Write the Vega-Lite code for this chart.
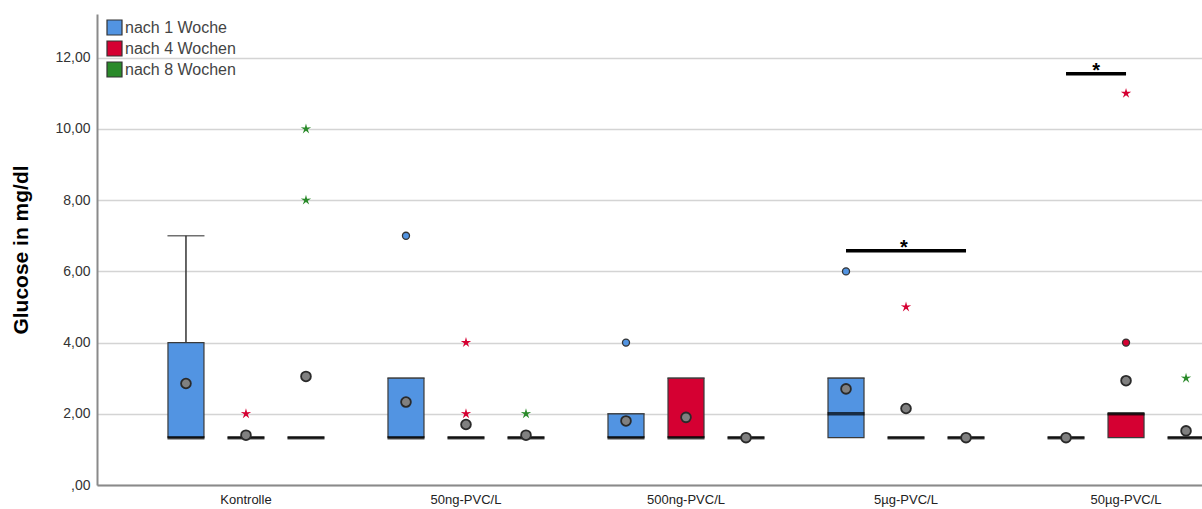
{
  "$schema": "https://vega.github.io/schema/vega-lite/v6.json",
  "autosize": "none",
  "width": 1105,
  "height": 471,
  "padding": {"left": 97, "top": 14, "right": 0, "bottom": 24},
  "background": "white",
  "config": {
    "view": {"stroke": null},
    "font": "Liberation Sans",
    "axis": {"gridColor": "#d4d4d4", "gridWidth": 1.5, "domainColor": "#8a8a8a", "domainWidth": 2, "ticks": false}
  },
  "datasets": {
    "boxes": [
      {"group": "Kontrolle", "series": "nach 1 Woche", "q1": 1.33, "median": 1.33, "q3": 4, "upper": 7, "mean": 2.85},
      {"group": "Kontrolle", "series": "nach 4 Wochen", "q1": 1.33, "median": 1.33, "q3": 1.33, "upper": 1.33, "mean": 1.4},
      {"group": "Kontrolle", "series": "nach 8 Wochen", "q1": 1.33, "median": 1.33, "q3": 1.33, "upper": 1.33, "mean": 3.05},
      {"group": "50ng-PVC/L", "series": "nach 1 Woche", "q1": 1.33, "median": 1.33, "q3": 3, "upper": 3, "mean": 2.33},
      {"group": "50ng-PVC/L", "series": "nach 4 Wochen", "q1": 1.33, "median": 1.33, "q3": 1.33, "upper": 1.33, "mean": 1.7},
      {"group": "50ng-PVC/L", "series": "nach 8 Wochen", "q1": 1.33, "median": 1.33, "q3": 1.33, "upper": 1.33, "mean": 1.4},
      {"group": "500ng-PVC/L", "series": "nach 1 Woche", "q1": 1.33, "median": 1.33, "q3": 2, "upper": 2, "mean": 1.8},
      {"group": "500ng-PVC/L", "series": "nach 4 Wochen", "q1": 1.33, "median": 1.33, "q3": 3, "upper": 3, "mean": 1.9},
      {"group": "500ng-PVC/L", "series": "nach 8 Wochen", "q1": 1.33, "median": 1.33, "q3": 1.33, "upper": 1.33, "mean": 1.33},
      {"group": "5µg-PVC/L", "series": "nach 1 Woche", "q1": 1.33, "median": 2, "q3": 3, "upper": 3, "mean": 2.7},
      {"group": "5µg-PVC/L", "series": "nach 4 Wochen", "q1": 1.33, "median": 1.33, "q3": 1.33, "upper": 1.33, "mean": 2.15},
      {"group": "5µg-PVC/L", "series": "nach 8 Wochen", "q1": 1.33, "median": 1.33, "q3": 1.33, "upper": 1.33, "mean": 1.33},
      {"group": "50µg-PVC/L", "series": "nach 1 Woche", "q1": 1.33, "median": 1.33, "q3": 1.33, "upper": 1.33, "mean": 1.33},
      {"group": "50µg-PVC/L", "series": "nach 4 Wochen", "q1": 1.33, "median": 2, "q3": 2, "upper": 2, "mean": 2.93},
      {"group": "50µg-PVC/L", "series": "nach 8 Wochen", "q1": 1.33, "median": 1.33, "q3": 1.33, "upper": 1.33, "mean": 1.52}
    ],
    "outliers": [
      {"group": "50ng-PVC/L", "series": "nach 1 Woche", "value": 7},
      {"group": "500ng-PVC/L", "series": "nach 1 Woche", "value": 4},
      {"group": "5µg-PVC/L", "series": "nach 1 Woche", "value": 6},
      {"group": "50µg-PVC/L", "series": "nach 4 Wochen", "value": 4}
    ],
    "extremes": [
      {"group": "Kontrolle", "series": "nach 4 Wochen", "value": 2},
      {"group": "Kontrolle", "series": "nach 8 Wochen", "value": 8},
      {"group": "Kontrolle", "series": "nach 8 Wochen", "value": 10},
      {"group": "50ng-PVC/L", "series": "nach 4 Wochen", "value": 4},
      {"group": "50ng-PVC/L", "series": "nach 4 Wochen", "value": 2},
      {"group": "50ng-PVC/L", "series": "nach 8 Wochen", "value": 2},
      {"group": "5µg-PVC/L", "series": "nach 4 Wochen", "value": 5},
      {"group": "50µg-PVC/L", "series": "nach 4 Wochen", "value": 11},
      {"group": "50µg-PVC/L", "series": "nach 8 Wochen", "value": 3}
    ],
    "sig": [
      {"comparison": "A", "group": "5µg-PVC/L", "series": "nach 1 Woche", "value": 6.58},
      {"comparison": "A", "group": "5µg-PVC/L", "series": "nach 8 Wochen", "value": 6.58},
      {"comparison": "B", "group": "50µg-PVC/L", "series": "nach 1 Woche", "value": 11.55},
      {"comparison": "B", "group": "50µg-PVC/L", "series": "nach 4 Wochen", "value": 11.55}
    ],
    "sigLabel": [
      {"comparison": "A", "group": "5µg-PVC/L", "series": "nach 4 Wochen", "value": 6.58, "label": "*"}
    ],
    "sigLabel2": [
      {"comparison": "B", "group": "50µg-PVC/L", "series": "nach 4 Wochen", "value": 11.55, "label": "*"}
    ]
  },
  "encoding": {
    "x": {
      "field": "group", "type": "nominal",
      "sort": ["Kontrolle", "50ng-PVC/L", "500ng-PVC/L", "5µg-PVC/L", "50µg-PVC/L"],
      "scale": {"domain": ["Kontrolle", "50ng-PVC/L", "500ng-PVC/L", "5µg-PVC/L", "50µg-PVC/L"], "range": [0, 1178], "paddingInner": 0.1818, "paddingOuter": 0.268},
      "axis": {"title": null, "labelAngle": 0, "labelFont": "Liberation Sans", "labelFontSize": 13, "labelColor": "#222222", "labelPadding": 8, "grid": false}
    },
    "xOffset": {
      "field": "series", "type": "nominal",
      "scale": {"domain": ["nach 1 Woche", "nach 4 Wochen", "nach 8 Wochen"], "paddingInner": 0.4, "paddingOuter": 0.2}
    }
  },
  "layer": [
    {
      "data": {"name": "boxes"},
      "mark": {"type": "rule", "color": "#333333", "strokeWidth": 1.5},
      "encoding": {
        "y": {"field": "q3", "type": "quantitative", "scale": {"domain": [0, 13.23], "nice": false}, "title": "Glucose in mg/dl",
          "axis": {"values": [0, 2, 4, 6, 8, 10, 12], "labelExpr": "datum.value == 0 ? ',00' : replace(format(datum.value, '.2f'), '.', ',')", "labelFontSize": 14, "labelColor": "#333333", "labelPadding": 7, "titleFontSize": 21, "titleFontWeight": "bold", "titleColor": "#000000", "titleX": -66, "titleFont": "Liberation Sans"}},
        "y2": {"field": "upper"}
      }
    },
    {
      "data": {"name": "boxes"},
      "mark": {"type": "tick", "color": "#333333", "thickness": 1.5, "size": 37},
      "encoding": {"y": {"field": "upper", "type": "quantitative"}}
    },
    {
      "data": {"name": "boxes"},
      "mark": {"type": "bar", "stroke": "#3a3a3a", "strokeWidth": 1.2},
      "encoding": {
        "y": {"field": "q1", "type": "quantitative"},
        "y2": {"field": "q3"},
        "color": {
          "field": "series", "type": "nominal",
          "scale": {"domain": ["nach 1 Woche", "nach 4 Wochen", "nach 8 Wochen"], "range": ["#5294e2", "#d50032", "#2a8a2a"]},
          "legend": {"title": null, "orient": "none", "legendX": 9, "legendY": 5, "symbolType": "square", "symbolSize": 225, "symbolStrokeColor": "#333333", "symbolStrokeWidth": 1.2, "symbolOpacity": 1, "labelFontSize": 16, "labelColor": "#444444", "labelOffset": 2, "rowPadding": 0, "padding": 0}
        }
      }
    },
    {
      "data": {"name": "boxes"},
      "mark": {"type": "tick", "color": "#000000", "thickness": 3.5, "size": 37},
      "encoding": {"y": {"field": "median", "type": "quantitative"}}
    },
    {
      "data": {"name": "outliers"},
      "mark": {"type": "point", "shape": "circle", "filled": true, "size": 50, "stroke": "#333333", "strokeWidth": 1.3, "opacity": 1},
      "encoding": {
        "y": {"field": "value", "type": "quantitative"},
        "fill": {"field": "series", "type": "nominal", "scale": {"domain": ["nach 1 Woche", "nach 4 Wochen", "nach 8 Wochen"], "range": ["#5294e2", "#d50032", "#2a8a2a"]}, "legend": null}
      }
    },
    {
      "data": {"name": "extremes"},
      "mark": {"type": "point", "shape": "M0,-1L0.2,-0.28L0.951,-0.309L0.32,0.1L0.588,0.809L0,0.34L-0.588,0.809L-0.32,0.1L-0.951,-0.309L-0.2,-0.28Z", "filled": true, "size": 120, "opacity": 1},
      "encoding": {
        "y": {"field": "value", "type": "quantitative"},
        "fill": {"field": "series", "type": "nominal", "scale": {"domain": ["nach 1 Woche", "nach 4 Wochen", "nach 8 Wochen"], "range": ["#5294e2", "#e8204a", "#3a9e3a"]}, "legend": null}
      }
    },
    {
      "data": {"name": "boxes"},
      "mark": {"type": "point", "shape": "circle", "filled": true, "size": 95, "fill": "#808080", "stroke": "#2a2a2a", "strokeWidth": 1.8, "opacity": 1},
      "encoding": {"y": {"field": "mean", "type": "quantitative"}}
    },
    {
      "data": {"name": "sig"},
      "mark": {"type": "line", "color": "#000000", "strokeWidth": 3.5},
      "encoding": {
        "y": {"field": "value", "type": "quantitative"},
        "detail": {"field": "comparison", "type": "nominal"}
      }
    },
    {
      "data": {"name": "sigLabel"},
      "mark": {"type": "text", "fontSize": 20, "fontWeight": "bold", "color": "#000000", "baseline": "alphabetic", "dy": 3, "dx": -2},
      "encoding": {"y": {"field": "value", "type": "quantitative"}, "text": {"field": "label"}}
    },
    {
      "data": {"name": "sigLabel2"},
      "mark": {"type": "text", "fontSize": 20, "fontWeight": "bold", "color": "#000000", "baseline": "alphabetic", "dy": 3, "dx": -30},
      "encoding": {"y": {"field": "value", "type": "quantitative"}, "text": {"field": "label"}}
    }
  ]
}
